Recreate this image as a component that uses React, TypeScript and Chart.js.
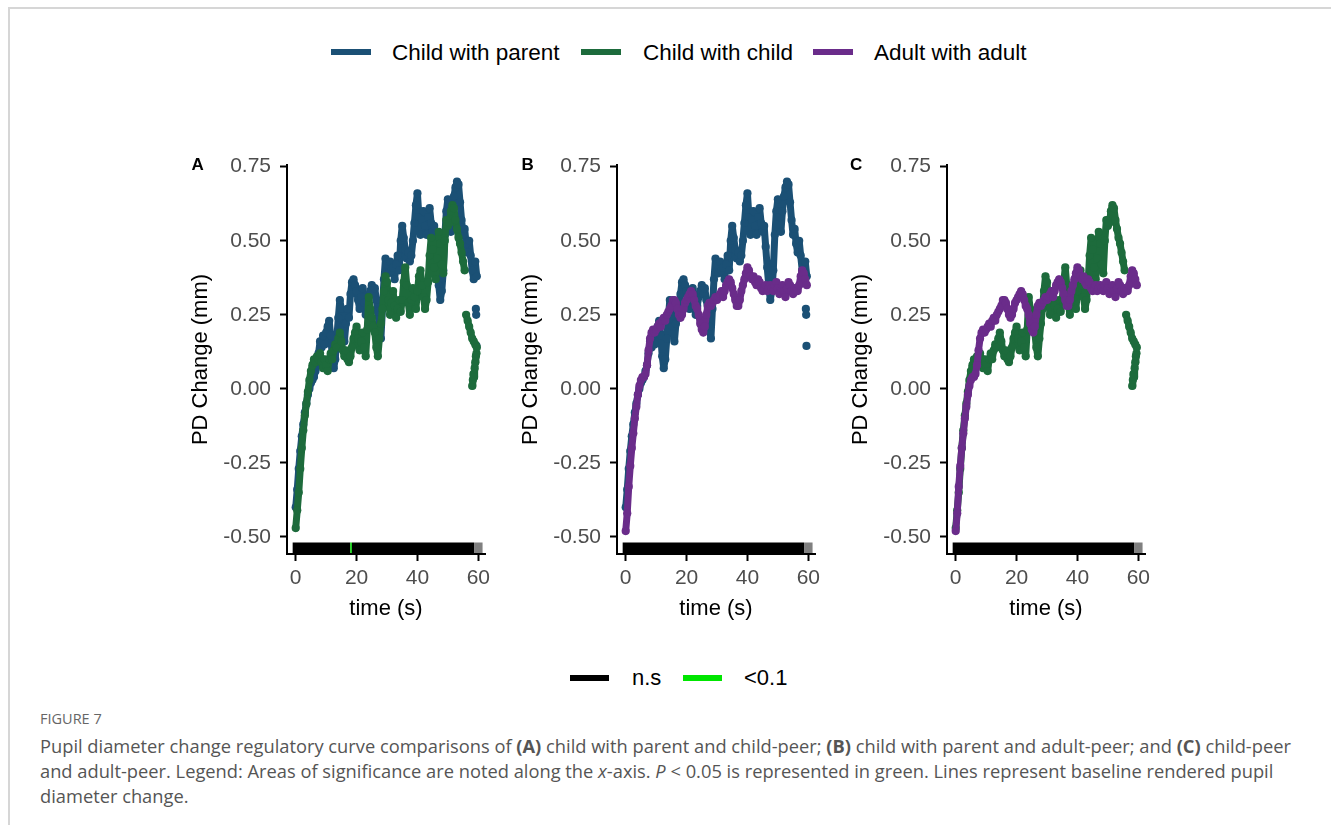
import React, { useEffect, useRef } from "react";
import { Chart, registerables } from "chart.js";

Chart.register(...registerables);

const FONT = '"Liberation Sans", Arial, Helvetica, sans-serif';

// ---------------- data ----------------
const timeS = [
  0, 0.5, 1, 1.5, 2, 2.5, 3, 3.5, 4, 4.5, 5, 5.5, 6, 6.5, 7, 7.5, 8, 8.5, 9, 9.5,
  10, 10.5, 11, 11.5, 12, 12.5, 13, 13.5, 14, 14.5, 15, 15.5, 16, 16.5, 17, 17.5, 18, 18.5, 19, 19.5,
  20, 20.5, 21, 21.5, 22, 22.5, 23, 23.5, 24, 24.5, 25, 25.5, 26, 26.5, 27, 27.5, 28, 28.5, 29, 29.5,
  30, 30.5, 31, 31.5, 32, 32.5, 33, 33.5, 34, 34.5, 35, 35.5, 36, 36.5, 37, 37.5, 38, 38.5, 39, 39.5,
  40, 40.5, 41, 41.5, 42, 42.5, 43, 43.5, 44, 44.5, 45, 45.5, 46, 46.5, 47, 47.5, 48, 48.5, 49, 49.5,
  50, 50.5, 51, 51.5, 52, 52.5, 53, 53.5, 54, 54.5, 55, 55.5, 56, 56.5, 57, 57.5, 58, 58.5, 59, 59.5,
];

const childParentPD = [
  -0.40, -0.34, -0.27, -0.21, -0.16, -0.12, -0.08, -0.05, -0.02, 0.00, 0.02, 0.03, 0.04, 0.06, 0.08, 0.12, 0.16, 0.14, 0.18, 0.15,
  0.19, 0.21, 0.23, 0.18, 0.11, 0.07, 0.10, 0.17, 0.24, 0.30, 0.27, 0.21, 0.16, 0.22, 0.27, 0.24, 0.32, 0.36, 0.37, 0.35,
  0.33, 0.30, 0.27, 0.31, 0.34, 0.29, 0.25, 0.28, 0.31, 0.33, 0.35, 0.32, 0.34, 0.30, 0.26, 0.21, 0.17, 0.27, 0.37, 0.44,
  0.42, 0.39, 0.43, 0.40, 0.41, 0.37, 0.42, 0.45, 0.40, 0.50, 0.55, 0.51, 0.47, 0.44, 0.46, 0.43, 0.45, 0.50, 0.56, 0.62,
  0.66, 0.58, 0.52, 0.57, 0.60, 0.55, 0.52, 0.58, 0.61, 0.56, 0.53, 0.55, 0.48, 0.41, 0.35, 0.30, 0.33, 0.40, 0.52, 0.60,
  0.64, 0.58, 0.53, 0.60, 0.65, 0.68, 0.70, 0.69, 0.63, 0.57, 0.52, 0.54, 0.49, 0.46, 0.50, 0.45, 0.40, 0.37, 0.43, 0.38,
];
const childParentExtraT = [59.2, 59.3, 59.4];
const childParentExtraPD = [0.27, 0.25, 0.145];

const childChildPD = [
  -0.47, -0.41, -0.35, -0.27, -0.20, -0.14, -0.09, -0.05, -0.01, 0.03, 0.06, 0.08, 0.10, 0.09, 0.11, 0.10, 0.12, 0.09, 0.07, 0.10,
  0.08, 0.06, 0.10, 0.12, 0.10, 0.13, 0.15, 0.14, 0.17, 0.19, 0.16, 0.13, 0.11, 0.13, 0.10, 0.09, 0.11, 0.14, 0.17, 0.19,
  0.21, 0.17, 0.13, 0.16, 0.19, 0.14, 0.11, 0.20, 0.31, 0.27, 0.24, 0.21, 0.19, 0.14, 0.11, 0.17, 0.22, 0.27, 0.33, 0.38,
  0.36, 0.30, 0.25, 0.29, 0.33, 0.28, 0.24, 0.27, 0.30, 0.26, 0.30, 0.36, 0.41, 0.35, 0.29, 0.25, 0.30, 0.34, 0.31, 0.27,
  0.33, 0.38, 0.40, 0.35, 0.31, 0.27, 0.30, 0.36, 0.45, 0.51, 0.47, 0.41, 0.37, 0.44, 0.53, 0.49, 0.42, 0.39, 0.50, 0.57,
  0.55, 0.56, 0.60, 0.62, 0.61, 0.57, 0.54, 0.51, 0.49, 0.46, 0.43, 0.40, 0.25, 0.23, 0.21, 0.19, 0.17, 0.16, 0.15, 0.14,
];
const childChildExtraT = [58.0, 58.2, 58.4, 58.6, 58.8, 59.0, 59.2, 59.4];
const childChildExtraPD = [0.01, 0.03, 0.05, 0.04, 0.07, 0.09, 0.11, 0.12];

const adultAdultPD = [
  -0.48, -0.42, -0.33, -0.26, -0.20, -0.15, -0.10, -0.06, -0.02, 0.01, 0.03, 0.04, 0.04, 0.05, 0.08, 0.13, 0.17, 0.19, 0.20, 0.19,
  0.20, 0.21, 0.22, 0.21, 0.23, 0.24, 0.23, 0.25, 0.26, 0.27, 0.28, 0.30, 0.30, 0.29, 0.27, 0.25, 0.24, 0.25, 0.27, 0.29,
  0.30, 0.31, 0.32, 0.33, 0.32, 0.30, 0.28, 0.27, 0.25, 0.22, 0.20, 0.19, 0.21, 0.25, 0.28, 0.29, 0.28, 0.29, 0.30, 0.31,
  0.30, 0.31, 0.32, 0.33, 0.31, 0.33, 0.35, 0.36, 0.37, 0.36, 0.34, 0.32, 0.30, 0.28, 0.28, 0.30, 0.33, 0.35, 0.37, 0.39,
  0.41, 0.40, 0.38, 0.37, 0.38, 0.36, 0.35, 0.37, 0.36, 0.34, 0.33, 0.34, 0.35, 0.33, 0.34, 0.35, 0.34, 0.33, 0.35, 0.36,
  0.34, 0.32, 0.34, 0.35, 0.33, 0.31, 0.34, 0.36, 0.35, 0.33, 0.32, 0.34, 0.33, 0.33, 0.35, 0.38, 0.40, 0.39, 0.37, 0.35,
];
const adultAdultExtraT: number[] = [];
const adultAdultExtraPD: number[] = [];

const seriesNames = ["Child with parent", "Child with child", "Adult with adult"];
const seriesColors = ["#1b5075", "#1d6b3c", "#6a2c8a"];
const seriesPD = [childParentPD, childChildPD, adultAdultPD];
const seriesExtraT = [childParentExtraT, childChildExtraT, adultAdultExtraT];
const seriesExtraPD = [childParentExtraPD, childChildExtraPD, adultAdultExtraPD];
const seriesExtraJoined = [false, true, false];

const yTickValues = [-0.5, -0.25, 0, 0.25, 0.5, 0.75];
const yTickLabels = ["-0.50", "-0.25", "0.00", "0.25", "0.50", "0.75"];
const xTickValues = [0, 20, 40, 60];
const xTickLabels = ["0", "20", "40", "60"];

// significance strip along the x-axis
const sigLegendLabels = ["n.s", "<0.1"];
const sigColors: Record<string, string> = { "n.s": "#000000", "<0.1": "#00e600", NA: "#808080" };
const sigStartA = [-1, 17.95, 18.45, 58.6];
const sigEndA = [17.95, 18.45, 58.6, 61.4];
const sigLevelA = ["n.s", "<0.1", "n.s", "NA"];
const sigStartB = [-1, 58.6];
const sigEndB = [58.6, 61.4];
const sigLevelB = ["n.s", "NA"];
const sigStartC = [-1, 58.6];
const sigEndC = [58.6, 61.4];
const sigLevelC = ["n.s", "NA"];

// ---------------- layout / style ----------------
const X_MIN = -2.86;
const X_MAX = 62.2;
const Y_MIN = -0.5574;
const Y_MAX = 0.7557;
const GAP_BREAK = 0.125;

const panels = [
  { letter: "A", left: 180, letterLeft: 191.5, series: [1, 0], sig: [sigStartA, sigEndA, sigLevelA] },
  { letter: "B", left: 510, letterLeft: 521.5, series: [2, 0], sig: [sigStartB, sigEndB, sigLevelB] },
  { letter: "C", left: 840, letterLeft: 850, series: [2, 1], sig: [sigStartC, sigEndC, sigLevelC] },
];

const sigBarPlugin = {
  id: "sigBar",
  beforeDatasetsDraw(chart: any, _args: any, opts: any) {
    const { ctx, chartArea } = chart;
    const xs = chart.scales.x;
    const starts: number[] = opts.starts || [];
    const ends: number[] = opts.ends || [];
    const levels: string[] = opts.levels || [];
    ctx.save();
    for (let i = 0; i < starts.length; i++) {
      const x0 = xs.getPixelForValue(starts[i]);
      const x1 = xs.getPixelForValue(ends[i]);
      ctx.fillStyle = sigColors[levels[i]];
      ctx.fillRect(x0, chartArea.bottom - 11.5, x1 - x0, 10.5);
    }
    ctx.restore();
  },
};

function makeDataset(label: string, color: string, pts: { x: number; y: number }[], joined: boolean) {
  return {
    label,
    data: pts,
    backgroundColor: color,
    borderColor: color,
    pointRadius: 4.1,
    pointHoverRadius: 4.1,
    pointBorderWidth: 0,
    showLine: joined,
    borderWidth: 7,
    borderJoinStyle: "round",
    borderCapStyle: "round",
    tension: 0,
    segment: {
      borderColor: (c: any) =>
        Math.abs(c.p1.parsed.y - c.p0.parsed.y) > GAP_BREAK ? "rgba(0,0,0,0)" : color,
    },
  };
}

function Panel(props: { left: number; series: number[]; sig: any[] }) {
  const ref = useRef<HTMLCanvasElement>(null);
  useEffect(() => {
    if (!ref.current) return;
    const datasets: any[] = [];
    props.series.forEach((s) => {
      const main = seriesPD[s].map((v, k) => ({ x: timeS[k], y: v }));
      const extra = seriesExtraT[s].map((t, k) => ({ x: t, y: seriesExtraPD[s][k] }));
      datasets.push(makeDataset(seriesNames[s], seriesColors[s], main, true));
      if (extra.length) datasets.push(makeDataset(seriesNames[s], seriesColors[s], extra, seriesExtraJoined[s]));
    });
    const chart = new Chart(ref.current, {
      type: "scatter",
      data: { datasets },
      plugins: [sigBarPlugin as any],
      options: {
        responsive: false,
        animation: false,
        events: [],
        layout: { padding: { top: 14, right: 15, left: 0, bottom: 0 } },
        plugins: {
          legend: { display: false },
          tooltip: { enabled: false },
          sigBar: { starts: props.sig[0], ends: props.sig[1], levels: props.sig[2] },
        } as any,
        scales: {
          x: {
            type: "linear",
            min: X_MIN,
            max: X_MAX,
            afterBuildTicks: (s: any) => {
              s.ticks = xTickValues.map((value) => ({ value }));
            },
            afterFit: (s: any) => {
              s.height = 77;
              s.paddingLeft = 0;
              s.paddingRight = 0;
            },
            grid: {
              display: true,
              drawOnChartArea: false,
              drawTicks: true,
              tickLength: 7,
              tickWidth: 2,
              tickColor: "#000",
              color: "#000",
            },
            border: { display: true, color: "#000", width: 2 },
            ticks: {
              color: "#4d4d4d",
              font: { size: 21, family: FONT },
              padding: 5,
              maxRotation: 0,
              autoSkip: false,
              callback: (v: any) => xTickLabels[xTickValues.indexOf(Number(v))],
            },
            title: {
              display: true,
              text: "time (s)",
              color: "#000",
              font: { size: 22, family: FONT },
              padding: { top: 0, bottom: 9 },
            },
          },
          y: {
            type: "linear",
            min: Y_MIN,
            max: Y_MAX,
            afterBuildTicks: (s: any) => {
              s.ticks = yTickValues.map((value) => ({ value }));
            },
            afterFit: (s: any) => {
              s.width = 107;
              s.paddingTop = 0;
              s.paddingBottom = 0;
            },
            grid: {
              display: true,
              drawOnChartArea: false,
              drawTicks: true,
              tickLength: 7,
              tickWidth: 2,
              tickColor: "#000",
              color: "#000",
            },
            border: { display: true, color: "#000", width: 2 },
            ticks: {
              color: "#4d4d4d",
              font: { size: 21, family: FONT },
              padding: 9,
              autoSkip: false,
              callback: (v: any) => yTickLabels[yTickValues.indexOf(Number(v))],
            },
            title: {
              display: true,
              text: "PD Change (mm)",
              color: "#000",
              font: { size: 22, family: FONT },
              padding: { top: 8, bottom: 0 },
            },
          },
        },
      } as any,
    });
    return () => chart.destroy();
  }, []);
  return (
    <canvas
      ref={ref}
      width={320}
      height={480}
      style={{ position: "absolute", left: props.left, top: 151, width: 320, height: 480 }}
    />
  );
}

const legendLineX = [331, 581, 813];
const legendTextX = [392, 643, 874];
const sigLegendLineX = [570, 683];
const sigLegendTextX = [632, 744];

export default function App() {
  return (
    <div
      style={{
        position: "absolute",
        left: 0,
        top: 0,
        width: 1331,
        height: 825,
        overflow: "hidden",
        background: "#fff",
      }}
    >
      <div
        style={{
          position: "absolute",
          left: 8,
          top: 7,
          width: 1330,
          height: 830,
          borderTop: "2px solid #d6d6d6",
          borderLeft: "2px solid #d6d6d6",
        }}
      />
      {/* top legend */}
      {seriesNames.map((n, i) => (
        <React.Fragment key={n}>
          <div
            style={{
              position: "absolute",
              left: legendLineX[i],
              top: 49,
              width: 40,
              height: 6,
              background: seriesColors[i],
            }}
          />
          <div
            style={{
              position: "absolute",
              left: legendTextX[i],
              top: 42,
              font: `22.5px ${FONT}`,
              lineHeight: "22px",
              color: "#000",
              whiteSpace: "nowrap",
            }}
          >
            {n}
          </div>
        </React.Fragment>
      ))}
      {panels.map((p) => (
        <React.Fragment key={p.letter}>
          <Panel left={p.left} series={p.series} sig={p.sig} />
          <div
            style={{
              position: "absolute",
              left: p.letterLeft,
              top: 155.5,
              font: `bold 17px ${FONT}`,
              lineHeight: "17px",
              color: "#000",
            }}
          >
            {p.letter}
          </div>
        </React.Fragment>
      ))}
      {/* significance legend */}
      {sigLegendLabels.map((n, i) => (
        <React.Fragment key={n}>
          <div
            style={{
              position: "absolute",
              left: sigLegendLineX[i],
              top: 675,
              width: 39,
              height: 6,
              background: sigColors[n],
            }}
          />
          <div
            style={{
              position: "absolute",
              left: sigLegendTextX[i],
              top: 667,
              font: `22px ${FONT}`,
              lineHeight: "22px",
              color: "#000",
              whiteSpace: "nowrap",
            }}
          >
            {n}
          </div>
        </React.Fragment>
      ))}
      {/* caption */}
      <div
        style={{
          position: "absolute",
          left: 40,
          top: 711,
          font: `14.5px "Open Sans", "Noto Sans", sans-serif`,
          lineHeight: "15px",
          color: "#666",
        }}
      >
        FIGURE 7
      </div>
      <div
        style={{
          position: "absolute",
          left: 40,
          top: 733,
          font: `18.3px "Open Sans", "Noto Sans", sans-serif`,
          lineHeight: "25px",
          color: "#555",
          whiteSpace: "nowrap",
        }}
      >
        Pupil diameter change regulatory curve comparisons of <b>(A)</b> child with parent and child-peer;{" "}
        <b>(B)</b> child with parent and adult-peer; and <b>(C)</b> child-peer
        <br />
        and adult-peer. Legend: Areas of significance are noted along the <i>x</i>-axis. <i>P</i> &lt; 0.05 is
        represented in green. Lines represent baseline rendered pupil
        <br />
        diameter change.
      </div>
    </div>
  );
}
